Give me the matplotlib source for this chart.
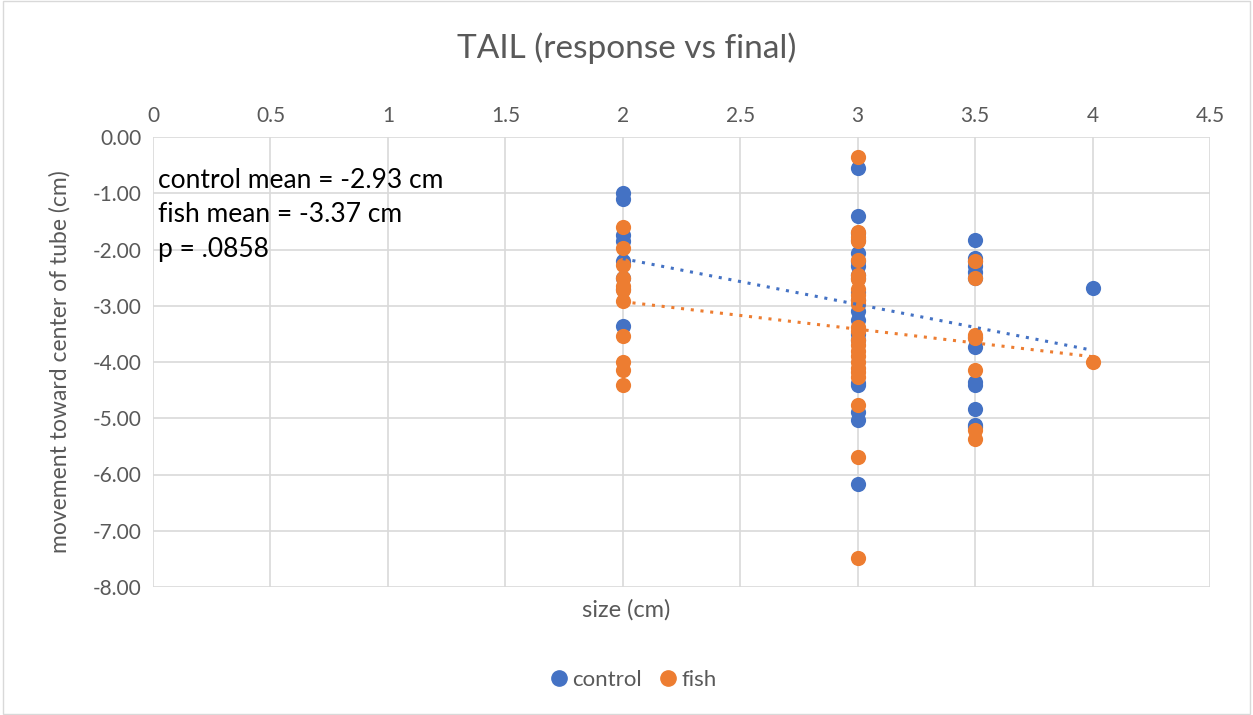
import numpy as np
import matplotlib
matplotlib.use("Agg")
import matplotlib.pyplot as plt
from matplotlib.lines import Line2D
from matplotlib.patches import Rectangle

plt.rcParams['font.family'] = ['Lato', 'DejaVu Sans']

title = "TAIL (response vs final)"
x_label = "size (cm)"
y_label = "movement toward center of tube (cm)"
notes = ["control mean = -2.93 cm", "fish mean = -3.37 cm", "p = .0858"]

control_x = [2]*8 + [3]*20 + [3.5]*13 + [4]
control_y = [-1.00, -1.10, -1.75, -1.85, -2.20, -2.50, -2.70, -3.36,
             -0.55, -1.40, -1.70, -1.83, -2.07, -2.20, -2.30, -2.45, -2.50, -2.75, -2.90,
             -3.10, -3.25, -3.50, -3.60, -4.37, -4.40, -4.88, -5.03, -6.17,
             -1.83, -2.15, -2.20, -2.30, -2.40, -2.50, -3.55, -3.73, -4.35, -4.40, -4.84,
             -5.12, -5.15,
             -2.69]

fish_x = [2]*11 + [3]*24 + [3.5]*7 + [4]
fish_y = [-1.60, -1.98, -2.28, -2.50, -2.65, -2.72, -2.92, -3.53, -4.00, -4.15, -4.41,
          -0.36, -1.69, -1.78, -1.85, -2.19, -2.45, -2.52, -2.70, -2.80, -2.90, -2.96,
          -3.37, -3.45, -3.60, -3.70, -3.80, -3.90, -4.00, -4.10, -4.17, -4.26, -4.77,
          -5.69, -7.48,
          -2.20, -2.50, -3.52, -3.58, -4.14, -5.20, -5.37,
          -4.00]

blue = "#4472C4"
orange = "#ED7D31"
grid_c = "#D9D9D9"
text_c = "#595959"

fig = plt.figure(figsize=(12.53, 7.15), dpi=100)
fig.patches.append(Rectangle((0.002, 0.002), 0.996, 0.996, transform=fig.transFigure,
                             fill=False, edgecolor=grid_c, linewidth=1))
ax = fig.add_axes([153/1253, 1-587/715, (1210-153)/1253, (587-137)/715])

ax.set_xlim(0, 4.5)
ax.set_ylim(-8, 0)
ax.set_xticks(np.arange(0, 4.51, 0.5))
ax.set_xticklabels([f"{v:g}" for v in np.arange(0, 4.51, 0.5)])
ax.set_yticks(np.arange(-8, 0.01, 1))
ax.set_yticklabels([f"{v:.2f}" for v in np.arange(-8, 0.01, 1)])
ax.xaxis.tick_top()
ax.grid(True, color=grid_c, linewidth=1.2)
ax.set_axisbelow(True)
for s in ax.spines.values():
    s.set_visible(False)
ax.tick_params(length=0, labelsize=15, colors=text_c, pad=8)

ax.scatter(control_x, control_y, s=120, color=blue, zorder=3, linewidths=0)
ax.scatter(fish_x, fish_y, s=120, color=orange, zorder=4, linewidths=0)

xs = np.array([2, 4])
for xd, yd, c in [(control_x, control_y, blue), (fish_x, fish_y, orange)]:
    m, b = np.polyfit(xd, yd, 1)
    ax.plot(xs, m*xs + b, linestyle=(0, (1, 2.2)), color=c, linewidth=2.2, zorder=5)

fig.text(0.5, 1-48/715, title, ha='center', va='center', fontsize=24, color=text_c)
fig.text(0.5, 1-610/715, x_label, ha='center', va='center', fontsize=17, color=text_c)
fig.text(60/1253, 1-362/715, y_label, ha='center', va='center', rotation=90, fontsize=16.5, color=text_c)

for i, t in enumerate(notes):
    fig.text(158/1253, 1-(180+35*i)/715, t, ha='left', va='center', fontsize=19, color='black')

handles = [Line2D([], [], marker='o', linestyle='none', color=blue, markersize=11, label='control'),
           Line2D([], [], marker='o', linestyle='none', color=orange, markersize=11, label='fish')]
fig.legend(handles=handles, loc='center', bbox_to_anchor=(0.5, 1-680/715), ncol=2, frameon=False,
           fontsize=16, handletextpad=-0.4, columnspacing=0.2, labelcolor=text_c)

fig.savefig("out.png", dpi=100)
